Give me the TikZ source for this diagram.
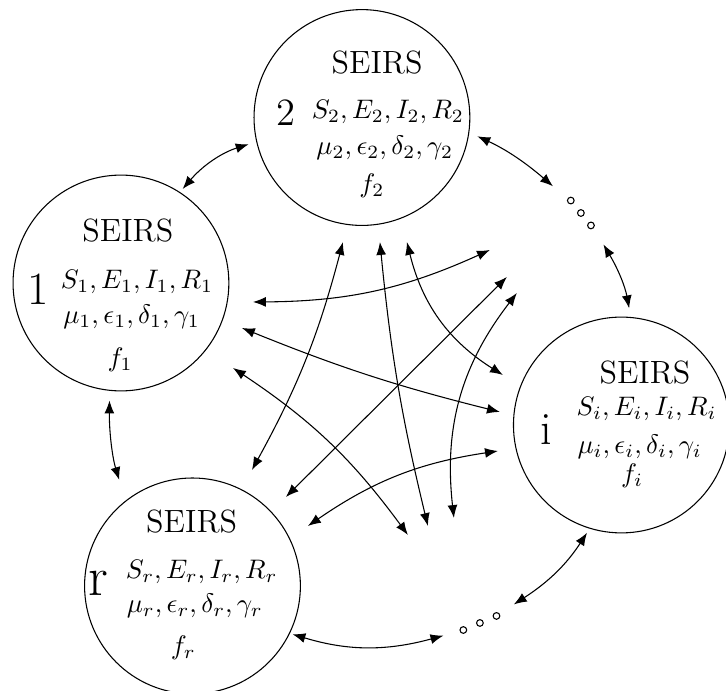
\documentclass[tikz,border=0pt]{standalone}
\usepackage{amsmath}
\usetikzlibrary{arrows.meta}
\tikzset{>={Latex[length=4.8pt,width=3.7pt]}}
\tikzset{
  seirs/.style={draw, circle, minimum size=2.83cm, inner sep=0pt},
  dotsnode/.style={circle, minimum size=1cm, inner sep=0pt},
  headtext/.style={font=\large, anchor=base, inner sep=0pt},
  idtext/.style={anchor=base, inner sep=0pt},
  mathtext/.style={anchor=base, inner sep=0pt}
}

\begin{document}
\begin{tikzpicture}
  \useasboundingbox (0,0) rectangle (9.52,9.06);

  \node[seirs] (n1) at (1.586,5.349) {};
  \node[seirs] (n2) at (4.746,7.519) {};
  \node[seirs] (ni) at (8.148,3.487) {};
  \node[seirs] (nr) at (2.524,1.377) {};

  % node 1
  \node[headtext] (title1) at ([shift={(0.09,0.54)}]n1.center) {SEIRS};
  \node[idtext, font=\LARGE] (num1) at ([shift={(-1.08,-0.28)}]n1.center) {1};
  \node[mathtext] (state1) at ([shift={(0.21,-0.07)}]n1.center) {$S_1, E_1, I_1, R_1$};
  \node[mathtext] (param1) at ([shift={(0.14,-0.53)}]n1.center) {$\mu_1, \epsilon_1, \delta_1, \gamma_1$};
  \node[mathtext] (force1) at ([shift={(-0.01,-1.10)}]n1.center) {$f_1$};

  % node 2
  \node[headtext] (title2) at ([shift={(0.20,0.58)}]n2.center) {SEIRS};
  \node[idtext, font=\Large] (num2) at ([shift={(-1.00,-0.10)}]n2.center) {2};
  \node[mathtext] (state2) at ([shift={(0.34,-0.01)}]n2.center) {$S_2, E_2, I_2, R_2$};
  \node[mathtext] (param2) at ([shift={(0.30,-0.48)}]n2.center) {$\mu_2, \epsilon_2, \delta_2, \gamma_2$};
  \node[mathtext] (force2) at ([shift={(0.13,-0.98)}]n2.center) {$f_2$};

  % node i
  \node[headtext] (titlei) at ([shift={(0.31,0.55)}]ni.center) {SEIRS};
  \node[idtext, font=\LARGE] (numi) at ([shift={(-0.98,-0.26)}]ni.center) {i};
  \node[mathtext] (statei) at ([shift={(0.33,0.13)}]ni.center) {$S_i, E_i, I_i, R_i$};
  \node[mathtext] (parami) at ([shift={(0.24,-0.37)}]ni.center) {$\mu_i, \epsilon_i, \delta_i, \gamma_i$};
  \node[mathtext] (forcei) at ([shift={(0.14,-0.75)}]ni.center) {$f_i$};

  % node r
  \node[headtext] (titler) at ([shift={(-0.01,0.70)}]nr.center) {SEIRS};
  \node[idtext, font=\huge] (numr) at ([shift={(-1.24,-0.12)}]nr.center) {r};
  \node[mathtext] (stater) at ([shift={(0.12,0.10)}]nr.center) {$S_r, E_r, I_r, R_r$};
  \node[mathtext] (paramr) at ([shift={(0.03,-0.35)}]nr.center) {$\mu_r, \epsilon_r, \delta_r, \gamma_r$};
  \node[mathtext] (forcer) at ([shift={(-0.12,-0.90)}]nr.center) {$f_r$};

  % the dots
  \node[dotsnode] (dotsA) at (7.617,6.267) {};
  \node[dotsnode] (dotsB) at (6.293,0.891) {};
  \foreach \k in {-1,0,1} {
    \draw ([shift={(-51:\k*0.21)}]dotsA.center) circle (1.25pt);
    \draw ([shift={(23:\k*0.236)}]dotsB.center) circle (1.25pt);
  }

  % outer ring
  \draw[<->, shorten <=1.5pt, shorten >=3pt] (n1.57) to[bend left=16] (n2.193);
  \draw[<->, shorten <=3.3pt] (n2.352) to[bend left=8] (dotsA);
  \draw[<->, shorten >=3.3pt] (dotsA) to[bend left=10] (ni.85);
  \draw[<->, shorten <=1.8pt] (ni.253) to[bend left=12] (dotsB);
  \draw[<->, shorten >=1pt] (dotsB) to[bend left=16] (nr.334);
  \draw[<->, shorten <=8pt, shorten >=3.6pt] (nr.128) to[bend left=9] (n1.264);

  % inner arrows
  \foreach \name/\x/\y in {a1/4.497/5.886, a2/3.304/2.897,
                           b1/4.982/5.886, b2/5.611/2.163,
                           c1/5.336/5.886, c2/6.594/4.143,
                           d1/3.317/5.100, d2/6.424/5.782,
                           e1/3.173/4.759, e2/6.555/3.658,
                           f1/3.055/4.235, f2/5.349/2.045,
                           g1/3.749/2.543, g2/6.647/5.428,
                           h1/6.778/5.218, h2/5.952/2.268,
                           i1/4.038/2.163, i2/6.529/3.146}
    \coordinate (\name) at (\x,\y);

  \draw[<->] (a1) to[bend left=7] (a2);
  \draw[<->] (b1) to[bend right=4] (b2);
  \draw[<->] (c1) to[bend right=22] (c2);
  \draw[<->] (d1) to[bend right=12] (d2);
  \draw[<->] (e1) to[bend right=4] (e2);
  \draw[<->] (f1) to[bend left=10] (f2);
  \draw[<->] (g1) -- (g2);
  \draw[<->] (h1) to[bend right=22] (h2);
  \draw[<->] (i1) to[bend left=13] (i2);
\end{tikzpicture}
\end{document}
